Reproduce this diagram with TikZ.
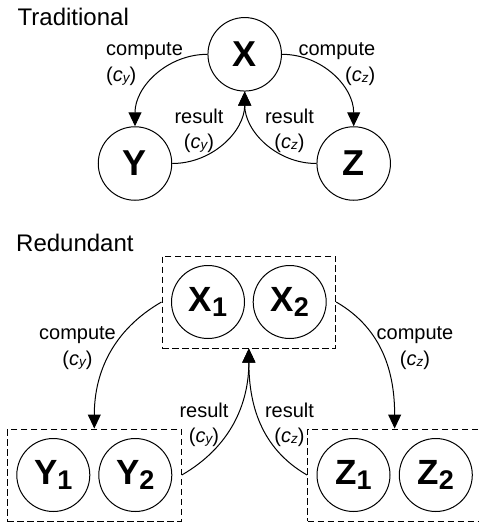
\documentclass[tikz,border=0pt]{standalone}
\usepackage{fontspec}
\setmainfont{Liberation Sans}
\usetikzlibrary{arrows.meta,fit}
\newcommand{\cy}{(\textit{c}\raisebox{-1pt}{\fontsize{13.5}{13.5}\selectfont\itshape y})}
\newcommand{\cz}{(\textit{c}\raisebox{-1pt}{\fontsize{13.5}{13.5}\selectfont\itshape z})}
\newcommand{\nsub}[2]{#1\raisebox{-5.7pt}{\fontsize{27}{27}\selectfont #2}}
\tikzset{
  circ/.style={circle,draw,line width=1pt,minimum size=73.5pt,inner sep=0pt,
    font=\fontsize{36}{36}\selectfont\bfseries},
  circb/.style={circ,minimum size=73pt,font=\fontsize{35}{35}\selectfont\bfseries},
  grp/.style={draw,line width=1pt,dash pattern=on 6.5pt off 3.5pt,inner sep=9pt},
  lbl/.style={inner sep=0pt,font=\fontsize{20}{25.5}\selectfont},
  ttl/.style={inner sep=0pt,anchor=base west,font=\fontsize{24}{24}\selectfont},
  arr/.style={line width=1pt,-{Triangle[length=14pt,width=13pt]}}
}
\begin{document}
\begin{tikzpicture}[x=1pt,y=1pt]
\useasboundingbox (0,0) rectangle (479,-523);
\clip (0,0) rectangle (479,-523);
% Traditional
\node[ttl] (t1) at (17.5,-25) {Traditional};
\node[circ] (X) at (244.7,-54.3) {X};
\node[circ] (Y) at (135,-163.5) {Y};
\node[circ] (Z) at (353.7,-163.5) {Z};
\draw[arr] (X.west) to[out=180,in=90] (Y.north);
\draw[arr] (X.east) to[out=0,in=90] (Z.north);
\draw[arr] (Y.east) to[out=0,in=-90] (X.south);
\draw[arr] (Z.west) to[out=180,in=-90] (X.south);
\node[lbl,anchor=base west,align=left] (lc1) at (106,-81) {compute\\\cy};
\node[lbl,anchor=base east,align=right] (rc1) at (375.5,-81) {compute\\\cz};
\node[lbl,anchor=base,align=center] (lr1) at (199,-148.5) {result\\\cy};
\node[lbl,anchor=base,align=center] (rr1) at (289.5,-148.5) {result\\\cz};
% Redundant
\node[ttl] (t2) at (16,-251) {Redundant};
\node[circb] (X1) at (208,-302) {\nsub{X}{1}};
\node[circb] (X2) at (289.7,-302) {\nsub{X}{2}};
\node[circb] (Y1) at (53.3,-475) {\nsub{Y}{1}};
\node[circb] (Y2) at (135.3,-475) {\nsub{Y}{2}};
\node[circb] (Z1) at (353.5,-475) {\nsub{Z}{1}};
\node[circb] (Z2) at (435.8,-475) {\nsub{Z}{2}};
\node[grp,fit=(X1)(X2)] (GX) {};
\node[grp,fit=(Y1)(Y2)] (GY) {};
\node[grp,fit=(Z1)(Z2)] (GZ) {};
\draw[arr] (GX.west) to[out=210,in=90] (GY.north);
\draw[arr] (GX.east) to[out=-30,in=90] (GZ.north);
\draw[arr] (GY.east) to[out=30,in=-90] (GX.south);
\draw[arr] (GZ.west) to[out=150,in=-90] (GX.south);
\node[lbl,anchor=base,align=center] (lc2) at (77.5,-365) {compute\\\cy};
\node[lbl,anchor=base,align=center] (rc2) at (415,-365) {compute\\\cz};
\node[lbl,anchor=base,align=center] (lr2) at (204,-442.5) {result\\\cy};
\node[lbl,anchor=base,align=center] (rr2) at (289.5,-442.5) {result\\\cz};
\end{tikzpicture}
\end{document}
